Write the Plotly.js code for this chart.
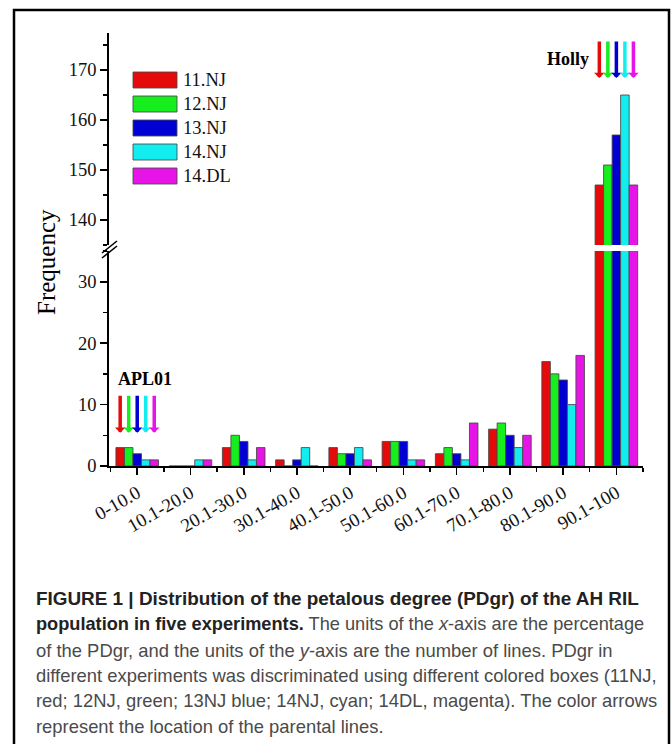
<!DOCTYPE html>
<html>
<head>
<meta charset="utf-8">
<script src="https://cdn.plot.ly/plotly-3.0.1.min.js"></script>
<style>
  html, body { margin: 0; padding: 0; background: #fff; }
  #chart { width: 672px; height: 744px; }
</style>
</head>
<body>
<div id="chart"></div>
<script>
// PDgr bins (percent) and line counts per experiment
const categories = ['0-10.0', '10.1-20.0', '20.1-30.0', '30.1-40.0', '40.1-50.0',
                    '50.1-60.0', '60.1-70.0', '70.1-80.0', '80.1-90.0', '90.1-100'];
const seriesNames = ['11.NJ', '12.NJ', '13.NJ', '14.NJ', '14.DL'];
const nj11 = [3, 0, 3, 1, 3, 4, 2, 6, 17, 147];
const nj12 = [3, 0, 5, 0, 2, 4, 3, 7, 15, 151];
const nj13 = [2, 0, 4, 1, 2, 4, 2, 5, 14, 157];
const nj14 = [1, 1, 1, 3, 3, 1, 1, 3, 10, 165];
const dl14 = [1, 1, 3, 0, 1, 1, 7, 5, 18, 147];
const seriesColors = ['#e50b0b', '#16ee1e', '#0000d2', '#12eef0', '#e614e6'];

// parental lines and the bin each one falls in
const parentNames = ['APL01', 'Holly'];
const parentBins = ['0-10.0', '90.1-100'];

const series = [nj11, nj12, nj13, nj14, dl14];

// page geometry
const W = 672, H = 744, ML = 109, MR = 29, MT = 33, MB = 278;
const plotW = W - ML - MR, plotH = H - MT - MB;
const px = v => (v - ML) / plotW;
const py = v => (H - MB - v) / plotH;

const BARGAP = 0.2;
const barW = (1 - BARGAP) / series.length;
const xIdx = categories.map((_, i) => i);
const outline = 'rgba(70,70,70,0.85)';

// each series is drawn on the lower (0-35) and the upper (135+) panel
const traces = [];
series.forEach((vals, k) => {
  ['y', 'y2'].forEach(ax => {
    traces.push({
      type: 'bar',
      x: xIdx,
      y: vals,
      name: seriesNames[k],
      yaxis: ax,
      showlegend: false,
      marker: { color: seriesColors[k], line: { color: outline, width: 1 } },
      hoverinfo: 'skip'
    });
  });
});

const serif = 'Liberation Serif, Times New Roman, serif';
const sans = 'Liberation Sans, Arial, sans-serif';

// arrows marking the parental lines, one per experiment colour
const arrowSpans = [
  { axis: 'y', tip: 5.4, tail: 11.7 },
  { axis: 'y2', tip: 168.4, tail: 176 }
];
const annotations = [];
parentNames.forEach((pname, p) => {
  const ci = categories.indexOf(parentBins[p]);
  const span = arrowSpans[p];
  seriesColors.forEach((c, k) => {
    const xv = ci + (k - (series.length - 1) / 2) * barW;
    annotations.push({
      xref: 'x', yref: span.axis, axref: 'x', ayref: span.axis,
      x: xv, y: span.tip, ax: xv, ay: span.tail,
      text: '', showarrow: true, arrowhead: 1, arrowsize: 0.5, arrowwidth: 3.5,
      arrowcolor: c, standoff: 0, startstandoff: 0
    });
  });
});
annotations.push({
  xref: 'x', yref: 'y', x: categories.indexOf(parentBins[0]) - 0.39, y: 14.2,
  xanchor: 'left', yanchor: 'middle', showarrow: false,
  text: '<b>' + parentNames[0] + '</b>', font: { family: serif, size: 18, color: '#000' }
});
annotations.push({
  xref: 'x', yref: 'y2', x: categories.indexOf(parentBins[1]) - 0.47, y: 172.2,
  xanchor: 'right', yanchor: 'middle', showarrow: false,
  text: '<b>' + parentNames[1] + '</b>', font: { family: serif, size: 18, color: '#000' }
});

// y-axis title
annotations.push({
  xref: 'paper', yref: 'paper', x: px(46), y: py(262), textangle: -90,
  xanchor: 'center', yanchor: 'middle', showarrow: false,
  text: 'Frequency', font: { family: serif, size: 25, color: '#000' }
});

const shapes = [
  // outer frame of the figure panel
  {
    type: 'path', xref: 'paper', yref: 'paper',
    path: `M${px(14)},${py(760)} L${px(14)},${py(10)} L${px(669)},${py(10)} L${px(669)},${py(760)}`,
    line: { color: '#000', width: 2.5 }, fillcolor: 'rgba(0,0,0,0)'
  },
  // axis break marks
  {
    type: 'line', xref: 'paper', yref: 'paper',
    x0: px(102), y0: py(258), x1: px(117), y1: py(246),
    line: { color: '#000', width: 1.6 }
  },
  {
    type: 'line', xref: 'paper', yref: 'paper',
    x0: px(102), y0: py(253), x1: px(117), y1: py(241),
    line: { color: '#000', width: 1.6 }
  }
];

// key: wide colour boxes with the experiment names
const keyLeft = 133, keyTop = 72, keyRow = 24, keyBoxW = 44, keyBoxH = 16;
seriesNames.forEach((nm, k) => {
  const top = keyTop + k * keyRow;
  shapes.push({
    type: 'rect', xref: 'paper', yref: 'paper',
    x0: px(keyLeft), x1: px(keyLeft + keyBoxW), y0: py(top + keyBoxH), y1: py(top),
    fillcolor: seriesColors[k], line: { color: outline, width: 1 }
  });
  annotations.push({
    xref: 'paper', yref: 'paper', x: px(keyLeft + keyBoxW + 4), y: py(top + keyBoxH / 2),
    xanchor: 'left', yanchor: 'middle', showarrow: false,
    text: nm, font: { family: serif, size: 18.5, color: '#111' }
  });
});

// figure caption
const dark = '#222', grey = '#4a4a4a';
const captionLines = [
  '<b>FIGURE 1 | Distribution of the petalous degree (PDgr) of the AH RIL</b>',
  '<b>population in five experiments.</b><span style="color:' + grey + '"> The units of the <i>x</i>-axis are the percentage</span>',
  '<span style="color:' + grey + '">of the PDgr, and the units of the <i>y</i>-axis are the number of lines. PDgr in</span>',
  '<span style="color:' + grey + '">different experiments was discriminated using different colored boxes (11NJ,</span>',
  '<span style="color:' + grey + '">red; 12NJ, green; 13NJ blue; 14NJ, cyan; 14DL, magenta). The color arrows</span>',
  '<span style="color:' + grey + '">represent the location of the parental lines.</span>'
];
const captionY = [598, 624, 650, 675, 700, 726];
const captionSize = [18.9, 18.2, 18.4, 18.4, 18.4, 18.4];
captionLines.forEach((t, i) => {
  annotations.push({
    xref: 'paper', yref: 'paper', x: px(34), y: py(captionY[i]),
    xanchor: 'left', yanchor: 'middle', showarrow: false, align: 'left',
    text: t, font: { family: sans, size: captionSize[i], color: dark }
  });
});

const axisCommon = {
  showgrid: false, zeroline: false, showline: true, linecolor: '#000', linewidth: 1.8,
  ticks: 'outside', ticklen: 7, tickwidth: 1.6, tickcolor: '#000',
  tickfont: { family: serif, size: 18.5, color: '#111' }
};

const layout = {
  width: W, height: H,
  margin: { l: ML, r: MR, t: MT, b: MB, pad: 0 },
  paper_bgcolor: '#fff', plot_bgcolor: '#fff',
  barmode: 'group', bargap: BARGAP, bargroupgap: 0,
  showlegend: false,
  xaxis: Object.assign({}, axisCommon, {
    type: 'linear', range: [-0.53, 9.5], anchor: 'y',
    tickmode: 'array', tickvals: xIdx, ticktext: categories, tickangle: -30,
    tickfont: { family: serif, size: 19, color: '#111' },
    minor: { tickmode: 'linear', tick0: 0.5, dtick: 1, ticks: 'outside', ticklen: 4, tickwidth: 1.4, tickcolor: '#000', showgrid: false }
  }),
  yaxis: Object.assign({}, axisCommon, {
    domain: [0, py(251)], range: [0, 35], anchor: 'x',
    tickmode: 'linear', tick0: 0, dtick: 10,
    minor: { tickmode: 'linear', tick0: 0, dtick: 5, ticks: 'outside', ticklen: 4, tickwidth: 1.4, tickcolor: '#000', showgrid: false }
  }),
  yaxis2: Object.assign({}, axisCommon, {
    domain: [py(245), 1], range: [135, 177.4], anchor: 'x',
    tickmode: 'linear', tick0: 0, dtick: 10,
    minor: { tickmode: 'linear', tick0: 0, dtick: 5, ticks: 'outside', ticklen: 4, tickwidth: 1.4, tickcolor: '#000', showgrid: false }
  }),
  annotations: annotations,
  shapes: shapes
};

Plotly.newPlot('chart', traces, layout, { staticPlot: true });
</script>
</body>
</html>
